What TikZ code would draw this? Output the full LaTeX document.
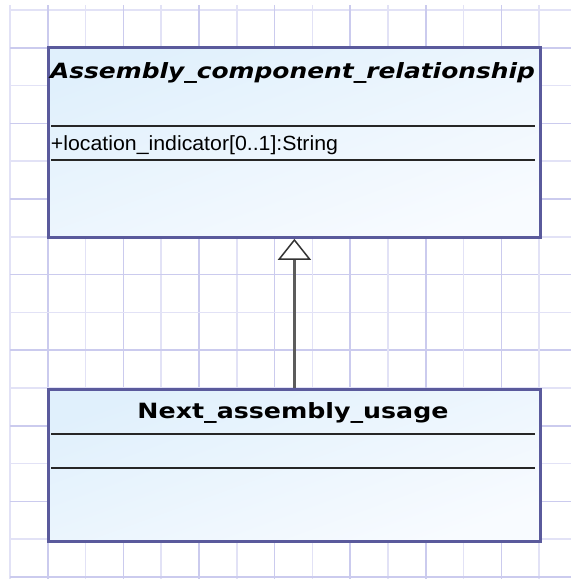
\documentclass[tikz,border=0pt]{standalone}
\usepackage{fontspec}
\usetikzlibrary{arrows.meta}
\newfontfamily\djv{DejaVu Sans}
\newfontfamily\lib{Liberation Sans}
\definecolor{gridA}{HTML}{E2E2F6}
\definecolor{gridB}{HTML}{CBCBEE}
\definecolor{boxborder}{HTML}{5A5A9C}
\definecolor{boxtop}{HTML}{E0F0FC}
\definecolor{boxbot}{HTML}{F8FBFF}
\definecolor{linkgray}{HTML}{5C5C5C}
\tikzset{
  gridline/.style={line width=1.6pt, gridA},
  gridlinedark/.style={line width=1.6pt, gridB},
  umlbox/.style={draw=boxborder, line width=2.8pt, rectangle, inner sep=0pt,
    top color=boxtop, bottom color=boxbot, shading angle=20},
  sepline/.style={line width=1.5pt, black!85},
  lbl/.style={inner sep=0pt, outer sep=0pt, text=black},
  genlink/.style={line width=3pt, draw=linkgray,
    -{Triangle[length=21pt, width=33pt, fill=white, color=black!80, line width=1.5pt]}}
}
\begin{document}
\begin{tikzpicture}[x=1pt, y=-1pt]
\useasboundingbox (0,0) rectangle (571,579);
\fill[white] (0,0) rectangle (571,579);
% grid
\foreach \i in {0,...,15} {
  \pgfmathsetmacro{\p}{10+37.8*\i}
  \pgfmathparse{mod(\i,2)==0 ? "gridline" : "gridlinedark"}
  \edef\gs{\pgfmathresult}
  \draw[\gs] (\p,5) -- (\p,579);
  \draw[\gs] (10,\p) -- (571,\p);
}
% top class
\node[umlbox, anchor=north west, minimum width=492pt, minimum height=190pt] (top) at (47,46) {};
\node[lbl, anchor=base west] (toptitle) at (50,78)
  {\resizebox{485pt}{\height}{\djv\bfseries\itshape\fontsize{21}{24}\selectfont Assembly\_component\_relationship}};
\draw[sepline] (51,126) -- (535,126);
\node[lbl, anchor=base west] (attr) at (51,150)
  {\resizebox{287pt}{\height}{\lib\fontsize{20.5}{24}\selectfont +location\_indicator[0..1]:String}};
\draw[sepline] (51,160) -- (535,160);
% bottom class
\node[umlbox, anchor=north west, minimum width=492pt, minimum height=152pt] (bot) at (47,388) {};
\node[lbl, anchor=base] (bottitle) at (293,418)
  {\resizebox{311pt}{\height}{\djv\bfseries\fontsize{21}{24}\selectfont Next\_assembly\_usage}};
\draw[sepline] (51,434) -- (535,434);
\draw[sepline] (51,468) -- (535,468);
% generalization
\draw[genlink] (bot.north) -- (top.south);
\end{tikzpicture}
\end{document}
